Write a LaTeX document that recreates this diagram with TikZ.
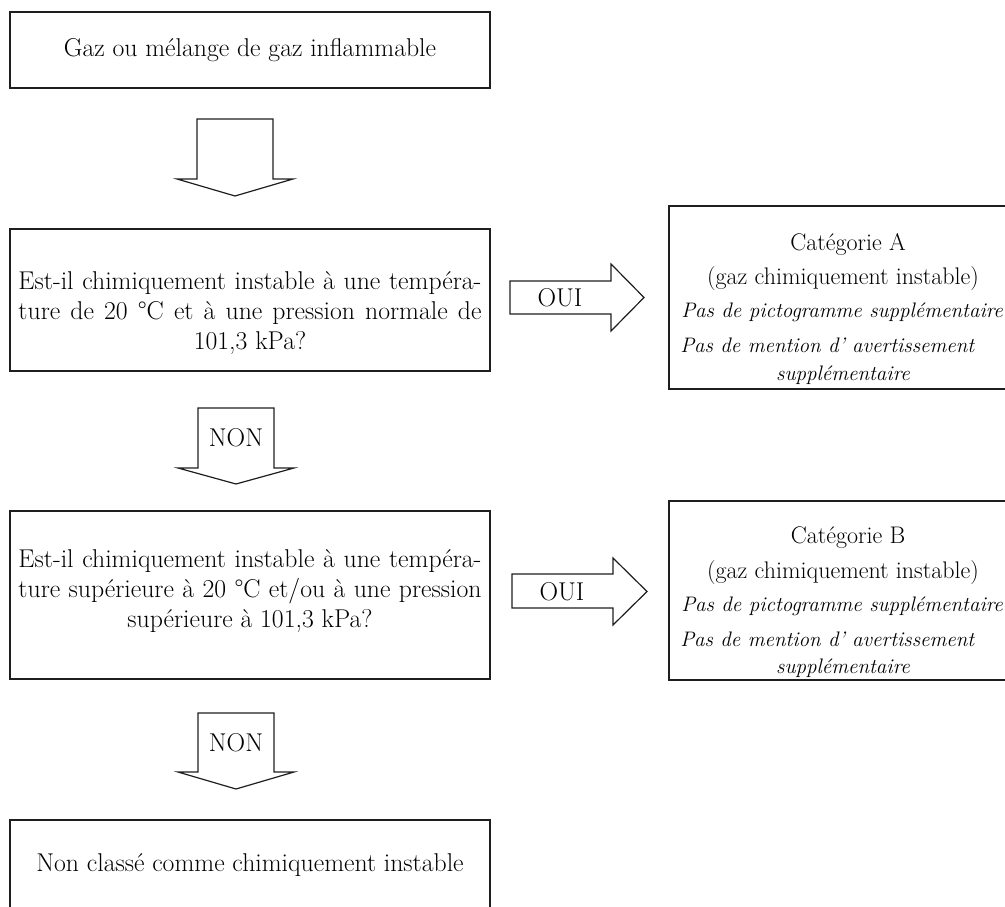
\documentclass[tikz,border=0pt]{standalone}
\usepackage{amsmath}
\usepackage{tikz}

\begin{document}
\begin{tikzpicture}[x=0.75pt,y=0.75pt,yscale=-1,xscale=1,
  boxline/.style={color={rgb, 255:red, 30; green, 30; blue, 30 }, draw opacity=1, line width=0.9pt},
  maintext/.style={font=\fontsize{19.3}{22.5}\selectfont, inner sep=0pt, align=center},
  cattext/.style={font=\fontsize{18}{20}\selectfont, inner sep=0pt},
  catitext/.style={font=\fontsize{15.75}{20}\selectfont\itshape, inner sep=0pt}]
%set diagram size to the reference page
\useasboundingbox (0,0) rectangle (1005,906);
\clip (0,0) rectangle (1005,906);

%Flowchart: Process [start]
\draw [boxline] (10,12) -- (490,12) -- (490,88) -- (10,88) -- cycle ;
\node [maintext] (gaz) at (250,50) {Gaz ou mélange de gaz inflammable};

%Down Arrow [first]
\draw [boxline] (197,119) -- (273,119) -- (273,179) -- (293,179) -- (235,196) -- (177,179) -- (197,179) -- cycle ;

%Flowchart: Process [question 1]
\draw [boxline] (10,229) -- (490,229) -- (490,371) -- (10,371) -- cycle ;
\node [maintext] (qnormal) at (250,313) {\makebox[347.25pt][s]{Est-il chimiquement instable à une tempéra-}\\
  \makebox[347.25pt][s]{ture de 20 °C et à une pression normale de}\\
  101,3 kPa?};

%Right Arrow [oui A]
\draw [boxline] (510,281) -- (611,281) -- (611,264) -- (644,297.5) -- (611,331) -- (611,314) -- (510,314) -- cycle ;
\node [maintext] (ouiA) at (560,298) {OUI};

%Flowchart: Process [categorie A]
\draw [boxline] (669,206) -- (1017,206) -- (1017,389) -- (669,389) -- cycle ;
\node [cattext] (catA) at (848,244) {Catégorie A};
\node [cattext] (gazA) at (843,279) {(gaz chimiquement instable)};
\node [catitext, anchor=west] (pictoA) at (681,312) {Pas de pictogramme supplémentaire};
\node [catitext, anchor=west] (mentionA) at (680,345) {Pas de mention d’ avertissement};
\node [catitext] (suppA) at (843,375) {supplémentaire};

%Down Arrow [non A]
\draw [boxline] (198,408) -- (274,408) -- (274,468) -- (294,468) -- (236,484) -- (178,468) -- (198,468) -- cycle ;
\node [maintext] (nonA) at (236,438) {NON};

%Flowchart: Process [question 2]
\draw [boxline] (10,511) -- (490,511) -- (490,679) -- (10,679) -- cycle ;
\node [maintext] (qhigher) at (250,591) {\makebox[347.25pt][s]{Est-il chimiquement instable à une tempéra-}\\
  \makebox[347.25pt][s]{ture supérieure à 20 °C et/ou à une pression}\\
  supérieure à 101,3 kPa?};

%Right Arrow [oui B]
\draw [boxline] (512,574) -- (613,574) -- (613,558) -- (647,591.5) -- (613,625) -- (613,608) -- (512,608) -- cycle ;
\node [maintext] (ouiB) at (562,592) {OUI};

%Flowchart: Process [categorie B]
\draw [boxline] (669,501) -- (1017,501) -- (1017,680) -- (669,680) -- cycle ;
\node [cattext] (catB) at (848,538) {Catégorie B};
\node [cattext] (gazB) at (843,573) {(gaz chimiquement instable)};
\node [catitext, anchor=west] (pictoB) at (681,606) {Pas de pictogramme supplémentaire};
\node [catitext, anchor=west] (mentionB) at (680,639) {Pas de mention d’ avertissement};
\node [catitext] (suppB) at (843,668) {supplémentaire};

%Down Arrow [non B]
\draw [boxline] (198,713) -- (274,713) -- (274,772) -- (294,772) -- (236,789) -- (178,772) -- (198,772) -- cycle ;
\node [maintext] (nonB) at (236,743) {NON};

%Flowchart: Process [end]
\draw [boxline] (10,820) -- (490,820) -- (490,915) -- (10,915) -- cycle ;
\node [maintext] (nonclasse) at (250,865) {Non classé comme chimiquement instable};

\end{tikzpicture}
\end{document}
